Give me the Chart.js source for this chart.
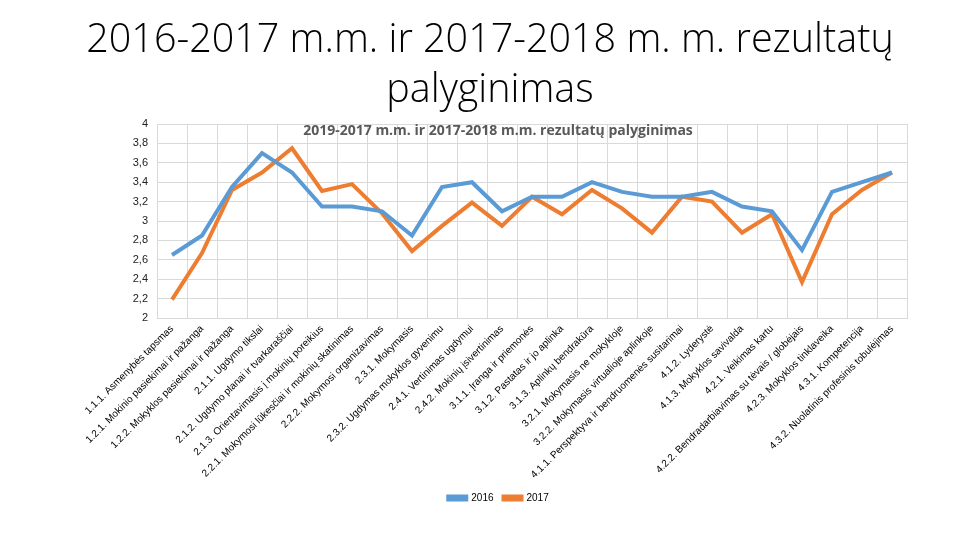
<!DOCTYPE html>
<html>
<head>
<meta charset="utf-8">
<script src="https://cdn.jsdelivr.net/npm/chart.js@4"></script>
<style>
  html, body { margin: 0; padding: 0; background: #fff; }
  #wrap { position: relative; width: 960px; height: 540px; overflow: hidden; }
  #pageTitle {
    position: absolute; left: 0; top: 12px; width: 980px;
    text-align: center; font-family: "Open Sans", sans-serif; font-weight: 300;
    font-size: 39.5px; line-height: 50px; color: #000;
  }
  #chart { position: absolute; left: 0; top: 0; }
</style>
</head>
<body>
<div id="wrap">
  <canvas id="chart" width="960" height="540"></canvas>
  <div id="pageTitle">2016-2017 m.m. ir 2017-2018 m. m. rezultatų<br>palyginimas</div>
</div>
<script>
const categories = [
  "1.1.1. Asmenybės tapsmas",
  "1.2.1. Mokinio pasiekimai ir pažanga",
  "1.2.2. Mokyklos pasiekimai ir pažanga",
  "2.1.1. Ugdymo tikslai",
  "2.1.2. Ugdymo planai ir tvarkaraščiai",
  "2.1.3. Orientavimasis į mokinių poreikius",
  "2.2.1. Mokymosi lūkesčiai ir mokinių skatinimas",
  "2.2.2. Mokymosi organizavimas",
  "2.3.1. Mokymasis",
  "2.3.2. Ugdymas mokyklos gyvenimu",
  "2.4.1. Vertinimas ugdymui",
  "2.4.2. Mokinių įsivertinimas",
  "3.1.1. Įranga ir priemonės",
  "3.1.2. Pastatas ir jo aplinka",
  "3.1.3. Aplinkų bendrakūra",
  "3.2.1. Mokymasis ne mokykloje",
  "3.2.2. Mokymasis virtualioje aplinkoje",
  "4.1.1. Perspektyva ir bendruomenės susitarimai",
  "4.1.2. Lyderystė",
  "4.1.3. Mokyklos savivalda",
  "4.2.1. Veikimas kartu",
  "4.2.2. Bendradarbiavimas su tėvais / globėjais",
  "4.2.3. Mokyklos tinklaveika",
  "4.3.1. Kompetencija",
  "4.3.2. Nuolatinis profesinis tobulėjimas"
];

const values2016 = [2.65, 2.85, 3.35, 3.7, 3.5, 3.15, 3.15, 3.1, 2.85, 3.35, 3.4, 3.1, 3.25,
  3.25, 3.4, 3.3, 3.25, 3.25, 3.3, 3.15, 3.1, 2.7, 3.3, 3.4, 3.5];
const values2017 = [2.19, 2.67, 3.32, 3.5, 3.75, 3.31, 3.38, 3.08, 2.69, 2.95, 3.19, 2.95, 3.25,
  3.07, 3.32, 3.13, 2.88, 3.25, 3.2, 2.88, 3.07, 2.37, 3.07, 3.32, 3.5];

const yTickLabels = ["2", "2,2", "2,4", "2,6", "2,8", "3", "3,2", "3,4", "3,6", "3,8", "4"];
const seriesNames = ["2016", "2017"];
const chartTitle = "2019-2017 m.m. ir 2017-2018 m.m. rezultatų palyginimas";

const BLUE = "#5b9bd5";
const ORANGE = "#ed7d31";
const GRID = "#d9d9d9";

// chart title sits inside the plot area, like the original
const innerTitle = {
  id: "innerTitle",
  afterDraw(chart) {
    const { ctx, chartArea } = chart;
    ctx.save();
    ctx.font = "bold 14px 'Open Sans', sans-serif";
    ctx.fillStyle = "#595959";
    ctx.textAlign = "center";
    ctx.textBaseline = "middle";
    ctx.fillText(chartTitle, 498, chartArea.top + 7);
    ctx.restore();
  }
};

new Chart(document.getElementById("chart"), {
  type: "line",
  data: {
    labels: categories,
    datasets: [
      { label: seriesNames[0], data: values2016, borderColor: BLUE, backgroundColor: BLUE,
        borderWidth: 4, pointRadius: 0, tension: 0 },
      { label: seriesNames[1], data: values2017, borderColor: ORANGE, backgroundColor: ORANGE,
        borderWidth: 4, pointRadius: 0, tension: 0 }
    ]
  },
  options: {
    responsive: false,
    animation: false,
    layout: { padding: { top: 124, left: 90, right: 53, bottom: 27 } },
    plugins: {
      legend: {
        position: "bottom",
        labels: {
          boxWidth: 18, boxHeight: 3, padding: 10, color: "#000",
          font: { family: "'Liberation Sans', Arial, sans-serif", size: 10 }
        }
      },
      tooltip: { enabled: false }
    },
    scales: {
      x: {
        offset: true,
        grid: { color: GRID, offset: true, drawTicks: false },
        border: { color: GRID },
        ticks: {
          autoSkip: false, minRotation: 45, maxRotation: 45, padding: 5,
          color: "#000", font: { family: "'Liberation Sans', Arial, sans-serif", size: 10 }
        },
        afterFit(scale) { scale.height = 165; }
      },
      y: {
        min: 2, max: 4,
        grid: { color: GRID, drawTicks: false },
        border: { color: GRID },
        ticks: {
          stepSize: 0.2, padding: 9, color: "#222",
          font: { family: "'Liberation Sans', Arial, sans-serif", size: 11 },
          callback: (v, i) => yTickLabels[i]
        },
        afterFit(scale) { scale.width = 67; }
      }
    }
  },
  plugins: [innerTitle]
});
</script>
</body>
</html>
